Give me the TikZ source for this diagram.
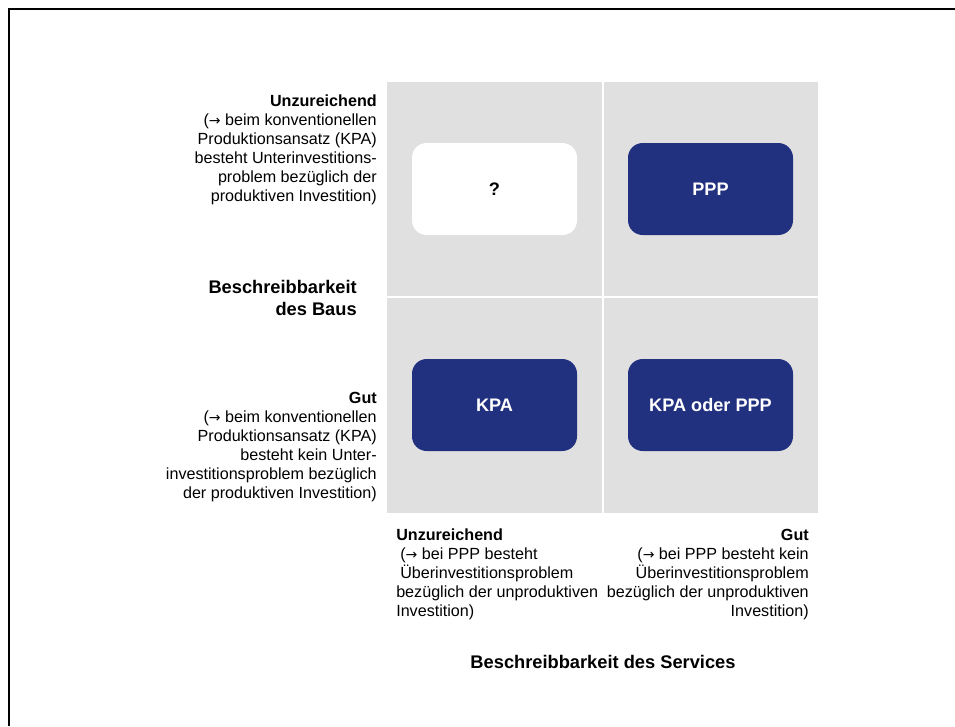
\documentclass[tikz,border=0pt]{standalone}
\usepackage{fontspec}
\setmainfont{Liberation Sans}
\newfontfamily\arrowfont{DejaVu Sans}
\usetikzlibrary{positioning}

\definecolor{navy}{HTML}{22317F}
\definecolor{cellgray}{HTML}{E0E0E0}

% arrow sign inside the side texts
\newcommand{\rarr}{{\arrowfont\fontsize{10.5}{14}\selectfont →}}

\tikzset{
  bluebox/.style={fill=navy, text=white, rounded corners=11pt, minimum width=123.75pt,
    minimum height=69pt, font=\fontsize{13.6}{16}\selectfont\bfseries},
  openbox/.style={bluebox, fill=white, text=black},
  sidetext/.style={inner sep=0pt, font=\fontsize{12.1}{14.25}\selectfont},
  axistitle/.style={inner sep=0pt, font=\fontsize{13.7}{16.5}\selectfont\bfseries}
}

\begin{document}
\begin{tikzpicture}[x=0.75pt, y=-0.75pt]
\useasboundingbox (0,0) rectangle (955,726);

% frame of the slide
\draw[line width=1.5pt] (9,726) -- (9,9) -- (955,9);

% the four gray cells
\foreach \xa/\ya/\xb/\yb in {387/82/602/296, 604/82/818/296, 387/298/602/513, 604/298/818/513}
  \fill[cellgray] (\xa,\ya) rectangle (\xb,\yb);

% center of the matrix
\coordinate (center) at (603,297);
\coordinate (bottom) at (603,513);

% boxes in the cells
\node[openbox] (unknown) at (494.5,189) {?};
\node[bluebox] (ppp) at (710.5,189) {PPP};
\node[bluebox] (kpa) at (494.5,405) {KPA};
\node[bluebox] (both) at (710.5,405) {KPA oder PPP};

% vertical axis
\node[sidetext, align=right, anchor=north east] (buildbad) at (377,95)
  {\textbf{Unzureichend}\\(\rarr\ beim konventionellen\\Produktionsansatz (KPA)\hspace*{3pt}\\besteht Unterinvestitions-\\problem bezüglich der\hspace*{3pt}\\produktiven Investition)};
\node[axistitle, align=right, anchor=north east] (buildtitle) at (357,280)
  {Beschreibbarkeit\\des Baus};
\node[sidetext, align=right, anchor=north east] (buildgood) at (377,392)
  {\textbf{Gut}\\(\rarr\ beim konventionellen\\Produktionsansatz (KPA)\hspace*{3pt}\\besteht kein Unter-\\investitionsproblem bezüglich\\der produktiven Investition)};

% horizontal axis
\node[sidetext, align=left, anchor=north west] (servicebad) at (396,529)
  {\textbf{Unzureichend}\\\hspace*{3pt}(\rarr\ bei PPP besteht\\\hspace*{3pt}Überinvestitionsproblem\\bezüglich der unproduktiven\\Investition)};
\node[sidetext, align=right, anchor=north east] (servicegood) at (809,529)
  {\textbf{Gut}\\(\rarr\ bei PPP besteht kein\hspace*{3pt}\\Überinvestitionsproblem\\bezüglich der unproduktiven\\Investition)};
\node[axistitle, below=106.5pt of bottom] (servicetitle) {Beschreibbarkeit des Services};

\end{tikzpicture}
\end{document}
